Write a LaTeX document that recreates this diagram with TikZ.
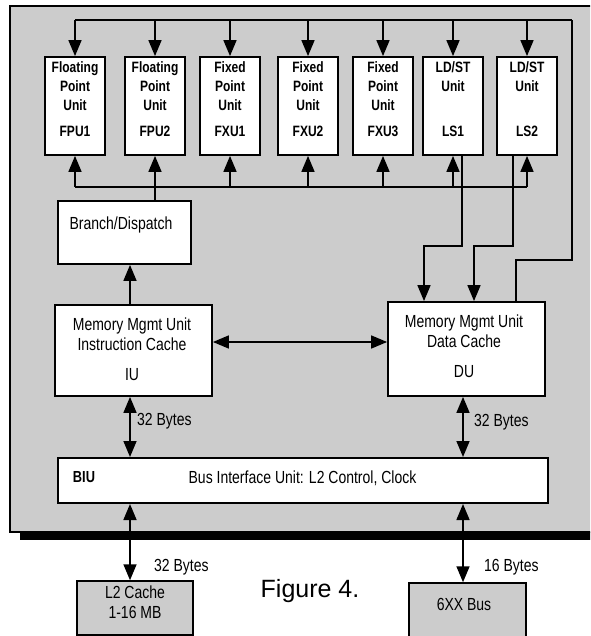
\documentclass[tikz,border=0pt]{standalone}
\usepackage{fontspec}
\setmainfont{Liberation Sans}
\newfontfamily\condfont[FakeStretch=0.8]{Liberation Sans}
\usetikzlibrary{arrows.meta,calc}
\definecolor{chipgray}{gray}{0.8}
\newcommand\execunit[5]{% x, name, top text, id, unused
  \node[unitbox] (#2) at (#1,106) {};
  \node[unittext,anchor=north] (#2t) at ($(#2.north)+(0,5)$) {#3};
  \node[unittext] (#2id) at ($(#2.north)+(0,75)$) {#4};
  \coordinate (#2top) at (#1,20);
  \coordinate (#2bus) at (#1,187);
  \draw[arr] (#2top) -- (#2.north);
  \draw[arr] (#2bus) -- (#2.south);
}
\begin{document}
\begin{tikzpicture}[x=1pt,y=-1pt,
  box/.style={draw=black,line width=1.8pt,fill=white,inner sep=0pt},
  unitbox/.style={box,minimum width=60pt,minimum height=98pt},
  unittext/.style={font=\condfont\bfseries\fontsize{15}{19}\selectfont,align=center,inner sep=0pt},
  lbl/.style={font=\condfont\fontsize{17.5}{20}\selectfont,align=center,inner sep=0pt},
  conn/.style={line width=1.6pt},
  arr/.style={conn,-{Triangle[width=13pt,length=16pt]}},
  darr/.style={conn,{Triangle[width=13pt,length=16pt]}-{Triangle[width=13pt,length=16pt]}},
]
\useasboundingbox (0,0) rectangle (590,636);
\clip (0,0) rectangle (590,636);
\fill[white] (0,0) rectangle (590,636);
% chip outline with shadow
\fill[black] (20,532) rectangle (600,540);
\draw[line width=1.2pt,fill=chipgray] (10,6) rectangle (600,532);

% top and bottom buses
\coordinate (tbL) at (75,20);
\coordinate (tbR) at (572,20);
\coordinate (tbD) at (572,260);
\coordinate (tbE) at (516,260);
\coordinate (bbL) at (75,187);
\coordinate (bbR) at (527,187);
\draw[conn] (tbL) -- (tbR);
\draw[conn] (bbL) -- (bbR);

\execunit{75}{fpu1}{Floating\\Point\\Unit}{FPU1}{}
\execunit{155}{fpu2}{Floating\\Point\\Unit}{FPU2}{}
\execunit{230}{fxu1}{Fixed\\Point\\Unit}{FXU1}{}
\execunit{308}{fxu2}{Fixed\\Point\\Unit}{FXU2}{}
\execunit{383}{fxu3}{Fixed\\Point\\Unit}{FXU3}{}
\execunit{453}{ls1}{LD/ST\\Unit}{LS1}{}
\execunit{527}{ls2}{LD/ST\\Unit}{LS2}{}

% branch / dispatch
\node[box,minimum width=133pt,minimum height=63pt] (bd) at (124.5,232.5) {};
\node[lbl] (bdt) at (121,225) {Branch/Dispatch};
\coordinate (bdbus) at (155,187);
\draw[conn] (bd.north -| bdbus) -- (bdbus);

% memory units
\node[box,minimum width=157pt,minimum height=91pt] (iu) at (133.5,350.5) {};
\node[lbl,anchor=north] (iut) at (132,318) {Memory Mgmt Unit\\Instruction Cache\\[10pt]IU};
\node[box,minimum width=157pt,minimum height=94pt] (du) at (466.5,349) {};
\node[lbl,anchor=north] (dut) at (464,315) {Memory Mgmt Unit\\Data Cache\\[10pt]DU};

\coordinate (iux) at (130,0);
\draw[arr] (iu.north -| iux) -- (bd.south -| iux);
\draw[darr] (iu.east |- 0,342) -- (du.west |- 0,342);

% LD/ST to DU
\coordinate (l1a) at (462,246);
\coordinate (l1b) at (424,246);
\coordinate (l2a) at (513,246);
\coordinate (l2b) at (474,246);
\draw[arr] (ls1.south -| l1a) -- (l1a) -- (l1b) -- (du.north -| l1b);
\draw[arr] (ls2.south -| l2a) -- (l2a) -- (l2b) -- (du.north -| l2b);
% DU result bus back to top
\draw[conn] (du.north -| tbE) -- (tbE) -- (tbD) -- (tbR);

% BIU
\node[box,line width=2pt,minimum width=490pt,minimum height=45pt] (biu) at (303,480.5) {};
\node[lbl,font=\condfont\bfseries\fontsize{16}{18}\selectfont] (biul) at (84,477) {BIU};
\node[lbl] (biut) at (302.5,478) {Bus Interface Unit: L2 Control, Clock};

\coordinate (dux) at (463,0);
\draw[darr] (iu.south -| iux) -- (biu.north -| iux);
\draw[darr] (du.south -| dux) -- (biu.north -| dux);
\node[lbl,anchor=west] (b1) at (137,421) {32 Bytes};
\node[lbl,anchor=west] (b2) at (474,422) {32 Bytes};

% external boxes
\node[draw=black,line width=1.5pt,fill=chipgray,minimum width=116pt,minimum height=54pt,inner sep=0pt] (l2) at (135,608) {};
\node[lbl] (l2t) at (135,602) {L2 Cache\\1-16 MB};
\node[draw=black,line width=1.5pt,fill=chipgray,minimum width=117pt,minimum height=60pt,inner sep=0pt] (bus) at (467.5,613) {};
\node[lbl] (bust) at (464,604) {6XX Bus};

\draw[darr] (biu.south -| iux) -- (l2.north -| iux);
\draw[darr] (biu.south -| dux) -- (bus.north -| dux);
\node[lbl,anchor=west] (b3) at (154,567) {32 Bytes};
\node[lbl,anchor=west] (b4) at (484,567) {16 Bytes};

\node[font=\fontsize{25}{30}\selectfont,inner sep=0pt] (fig) at (310,591) {Figure 4.};
\end{tikzpicture}
\end{document}
